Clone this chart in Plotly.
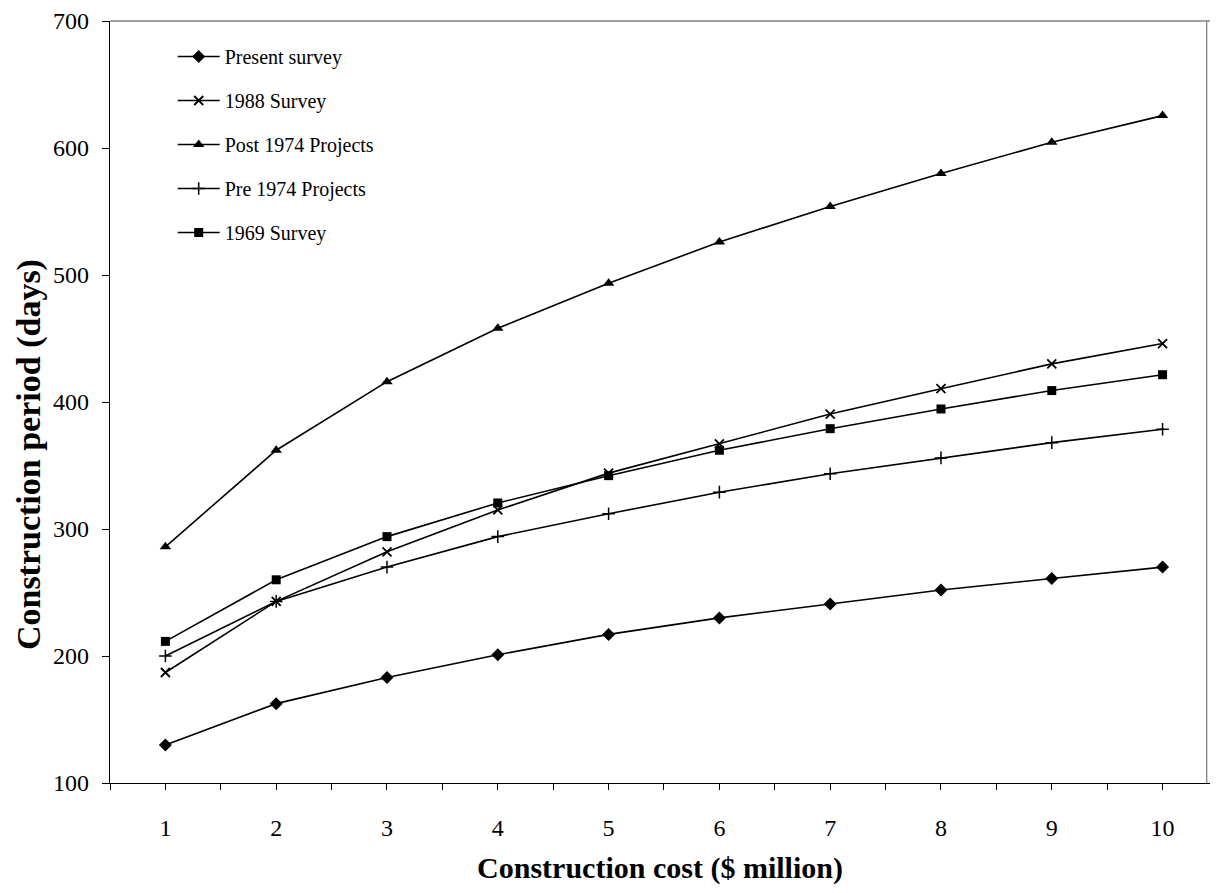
import plotly.graph_objects as go

cost = [1, 2, 3, 4, 5, 6, 7, 8, 9, 10]
present_survey = [130, 162.5, 183, 201, 217, 230, 241, 252, 261, 270]
survey_1988 = [187, 243, 282, 315, 344, 367, 390.5, 410.5, 430, 446]
post_1974 = [286, 362, 416, 458, 493.5, 526, 554, 580, 604.5, 625.5]
pre_1974 = [200, 243, 270, 294, 312, 329, 343.5, 356, 368, 378.5]
survey_1969 = [211.5, 260, 294, 320.5, 342, 362, 379, 394.5, 409, 421.5]
y_ticks = [100, 200, 300, 400, 500, 600, 700]

FONT = "Liberation Serif"

series = [
    ("Present survey", present_survey, dict(symbol="diamond", size=10, color="black")),
    ("1988 Survey", survey_1988, dict(symbol="x-thin-open", size=9, color="black", line=dict(width=1.8, color="black"))),
    ("Post 1974 Projects", post_1974, dict(symbol="triangle-up", size=10, color="black")),
    ("Pre 1974 Projects", pre_1974, dict(symbol="cross-thin-open", size=9, color="black", line=dict(width=1.5, color="black"))),
    ("1969 Survey", survey_1969, dict(symbol="square", size=9, color="black")),
]

fig = go.Figure()
for i, (name, vals, mk) in enumerate(series):
    fig.add_trace(go.Scatter(
        x=cost, y=vals, name=name, mode="lines+markers",
        line=dict(color="black", width=1.6), marker=mk,
        legendgroup=f"g{i}",
    ))

fig.update_layout(
    width=1202, height=877,
    margin=dict(l=102, r=0, t=13, b=102, autoexpand=False),
    paper_bgcolor="white", plot_bgcolor="white",
    font=dict(family=FONT, color="black", size=24),
    showlegend=True,
    legend=dict(
        x=0.057, y=0.979, xanchor="left", yanchor="top",
        font=dict(family=FONT, size=20, color="black"),
        bgcolor="rgba(0,0,0,0)", itemwidth=42, tracegroupgap=15,
        traceorder="grouped",
    ),
)

fig.update_xaxes(
    range=[0.5, 10.428], tickmode="array", tickvals=cost,
    ticktext=[str(c) for c in cost],
    ticks="outside", ticklen=6, tickcolor="black", tickwidth=1,
    showline=True, linecolor="black", linewidth=1.3,
    showgrid=False, zeroline=False,
    tickfont=dict(family=FONT, size=24, color="black"),
    ticklabelstandoff=17, ticklabeloverflow="allow",
    minor=dict(tickmode="array", tickvals=[c - 0.5 for c in cost], ticks="outside", ticklen=6, tickcolor="black", showgrid=False),
    title=dict(text="<b>Construction cost ($ million)</b>", font=dict(family=FONT, size=30, color="black"), standoff=19),
)
fig.update_yaxes(
    range=[100, 700], tickmode="array", tickvals=y_ticks,
    ticks="outside", ticklen=7, tickcolor="black", tickwidth=1,
    showline=True, linecolor="black", linewidth=1.3,
    showgrid=False, zeroline=False,
    tickfont=dict(family=FONT, size=24, color="black"),
    ticklabelstandoff=8, ticklabeloverflow="allow",
)

fig.add_annotation(
    text="<b>Construction period (days)</b>", textangle=-90,
    xref="paper", yref="paper", x=-0.0736, y=0.4304,
    xanchor="center", yanchor="middle", showarrow=False,
    font=dict(family=FONT, size=34, color="black"),
)

# gray frame on top and right of plot area
fig.add_shape(type="line", xref="paper", yref="paper", x0=0, x1=1, y0=1, y1=1,
              line=dict(color="#808080", width=1.3))
fig.add_shape(type="line", xref="paper", yref="paper", x0=0.997, x1=0.997, y0=0, y1=1,
              line=dict(color="#808080", width=1.3))

fig.write_html("out.html")
